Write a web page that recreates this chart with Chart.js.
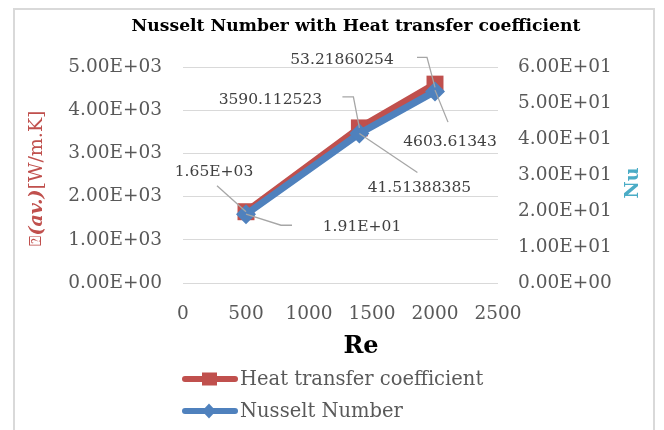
<!DOCTYPE html>
<html><head><meta charset="utf-8">
<script src="https://cdn.jsdelivr.net/npm/chart.js"></script>
<style>html,body{margin:0;padding:0;background:#fff}#wrap{width:664px;height:430px;position:relative}</style>
</head><body><div id="wrap"><canvas id="c" width="664" height="430"></canvas></div>
<script>
// ---- data ----
const reynolds = [500, 1400, 2000];
const heatTransfer = [1650, 3590.112523, 4603.61343];
const nusselt = [19.1, 41.51388385, 53.21860254];
const xTicks = [0, 500, 1000, 1500, 2000, 2500];
const hTicks = [0, 1000, 2000, 3000, 4000, 5000];
const nuTicks = [0, 10, 20, 30, 40, 50, 60];
const hLabels = ['1.65E+03', '3590.112523', '4603.61343'];
const nuLabels = ['1.91E+01', '41.51388385', '53.21860254'];
const seriesNames = ['Heat transfer coefficient', 'Nusselt Number'];
const titleText = 'Nusselt Number with Heat transfer coefficient';

// ---- styles ----
const FONT = "'DejaVu Serif', 'Liberation Serif', serif";
const RED = '#C0504D', BLUE = '#4F81BD', NU = '#4BACC6';
const TICKC = '#595959', LABC = '#404040', LEADC = '#A6A6A6';

function sci(v, d) {
  if (v === 0) return (0).toFixed(d) + 'E+00';
  let e = Math.round(Math.log10(Math.abs(v)));
  let m = v / Math.pow(10, e);
  if (Math.abs(m) < 1) { e -= 1; m = v / Math.pow(10, e); }
  if (Math.abs(m) >= 10) { e += 1; m = v / Math.pow(10, e); }
  const es = (e < 0 ? '-' : '+') + String(Math.abs(e)).padStart(2, '0');
  return m.toFixed(d) + 'E' + es;
}

// label placement (relative to the marker pixel)
const labelLayout = [
  [ {dx:-32, dy:-40, lead:[[-29,-26],[0,0]]},
    {dx:-89, dy:-28, lead:[[-17,-31],[-6,-31],[0,0]]},
    {dx:15, dy:58, lead:[[0,6],[13,38]]} ],
  [ {dx:116, dy:13, lead:[[0,0],[35,11],[46,11]]},
    {dx:60, dy:54, lead:[[0,0],[58,39]]},
    {dx:-93, dy:-31, lead:[[-18,-34],[-8,-34],[0,-4]]} ]
];
const seriesLabels = [hLabels, nuLabels];

const decorPlugin = {
  id: 'decor',
  beforeDraw(chart) {
    const ctx = chart.ctx;
    ctx.save();
    ctx.strokeStyle = '#D9D9D9';
    ctx.lineWidth = 2;
    ctx.strokeRect(14, 9, 640, 440);
    ctx.restore();
  },
  afterDatasetsDraw(chart) {
    const ctx = chart.ctx;
    ctx.save();
    chart.data.datasets.forEach((ds, i) => {
      const meta = chart.getDatasetMeta(i);
      meta.data.forEach((pt, j) => {
        const L = labelLayout[i][j];
        ctx.strokeStyle = LEADC; ctx.lineWidth = 1.3;
        ctx.beginPath();
        L.lead.forEach((p, k) => { const X = pt.x + p[0], Y = pt.y + p[1]; k ? ctx.lineTo(X, Y) : ctx.moveTo(X, Y); });
        ctx.stroke();
        ctx.fillStyle = LABC;
        ctx.font = "15.5px " + FONT;
        ctx.textAlign = 'center'; ctx.textBaseline = 'middle';
        ctx.fillText(seriesLabels[i][j], pt.x + L.dx, pt.y + L.dy);
      });
    });
    ctx.restore();
  },
  afterDraw(chart) {
    const ctx = chart.ctx;
    ctx.save();
    // title
    ctx.fillStyle = '#000';
    ctx.font = "bold 17.2px " + FONT;
    ctx.textAlign = 'center'; ctx.textBaseline = 'middle';
    ctx.fillText(titleText, 356, 27);
    // x title
    ctx.font = "bold 24px " + FONT;
    ctx.fillText('Re', 361, 347);
    // right title (reads bottom to top)
    ctx.save();
    ctx.translate(633, 183); ctx.rotate(-Math.PI / 2);
    ctx.fillStyle = NU; ctx.font = "bold 19px " + FONT;
    ctx.fillText('Nu', 0, 0);
    ctx.restore();
    // left title mixed styles
    ctx.save();
    ctx.translate(37, 178); ctx.rotate(-Math.PI / 2);
    ctx.fillStyle = RED; ctx.textAlign = 'left';
    const segs = [["17px " + FONT, '⍰'], ["italic bold 19px " + FONT, '(av.)'], ["19px " + FONT, '[W/m.K]']];
    let tot = 0; segs.forEach(s => { ctx.font = s[0]; tot += ctx.measureText(s[1]).width; });
    let x = -tot / 2;
    segs.forEach(s => { ctx.font = s[0]; ctx.fillText(s[1], x, 0); x += ctx.measureText(s[1]).width; });
    ctx.restore();
    // legend
    const dsets = chart.data.datasets;
    [379, 411].forEach((y, i) => {
      const ds = dsets[i];
      ctx.strokeStyle = ds.borderColor; ctx.lineWidth = 6; ctx.lineCap = 'round';
      ctx.beginPath(); ctx.moveTo(185, y); ctx.lineTo(235, y); ctx.stroke();
      ctx.fillStyle = ds.borderColor;
      if (ds.pointStyle === 'rect') { ctx.fillRect(202, y - 6.5, 15, 13); }
      else { ctx.beginPath(); ctx.moveTo(209, y - 7.5); ctx.lineTo(216, y); ctx.lineTo(209, y + 7.5); ctx.lineTo(202, y); ctx.closePath(); ctx.fill(); }
      ctx.fillStyle = TICKC; ctx.font = "19.5px " + FONT; ctx.textAlign = 'left'; ctx.textBaseline = 'middle';
      ctx.fillText(ds.label, 240, y + 1);
    });
    ctx.restore();
  }
};

const tickFont = { family: FONT, size: 18.5 };
new Chart(document.getElementById('c'), {
  type: 'line',
  data: {
    datasets: [
      { label: seriesNames[0], data: reynolds.map((x, i) => ({ x, y: heatTransfer[i] })), yAxisID: 'y',
        borderColor: RED, backgroundColor: RED, borderWidth: 7, pointStyle: 'rect', pointRadius: 12,
        pointBorderWidth: 0, pointBackgroundColor: RED, order: 1 },
      { label: seriesNames[1], data: reynolds.map((x, i) => ({ x, y: nusselt[i] })), yAxisID: 'y1',
        borderColor: BLUE, backgroundColor: BLUE, borderWidth: 7, pointStyle: 'rectRot', pointRadius: 10,
        pointBorderWidth: 0, pointBackgroundColor: BLUE, order: 0 }
    ]
  },
  options: {
    responsive: false, animation: false, devicePixelRatio: 1,
    layout: { padding: { top: 67, left: 0, right: 0, bottom: 0 } },
    plugins: { legend: { display: false }, title: { display: false }, tooltip: { enabled: false } },
    scales: {
      x: { type: 'linear', position: 'bottom', min: 0, max: 2500,
        afterBuildTicks: s => { s.ticks = xTicks.map(v => ({ value: v })); },
        afterFit: s => { s.height = 147; },
        grid: { display: false, drawTicks: false }, border: { display: false },
        ticks: { font: tickFont, color: TICKC, padding: 20, maxRotation: 0, autoSkip: false, callback: v => String(v) } },
      y: { position: 'left', min: 0, max: 5000,
        afterBuildTicks: s => { s.ticks = hTicks.map(v => ({ value: v })); },
        afterFit: s => { s.width = 183; },
        grid: { color: '#D9D9D9', lineWidth: 1, drawTicks: false }, border: { display: false },
        ticks: { font: tickFont, color: TICKC, padding: 21, callback: v => sci(v, 2) } },
      y1: { position: 'right', min: 0, max: 60,
        afterBuildTicks: s => { s.ticks = nuTicks.map(v => ({ value: v })); },
        afterFit: s => { s.width = 166; },
        grid: { display: false, drawTicks: false }, border: { display: false },
        ticks: { font: tickFont, color: TICKC, padding: 20, callback: v => sci(v, 2) } }
    }
  },
  plugins: [decorPlugin]
});
</script></body></html>
